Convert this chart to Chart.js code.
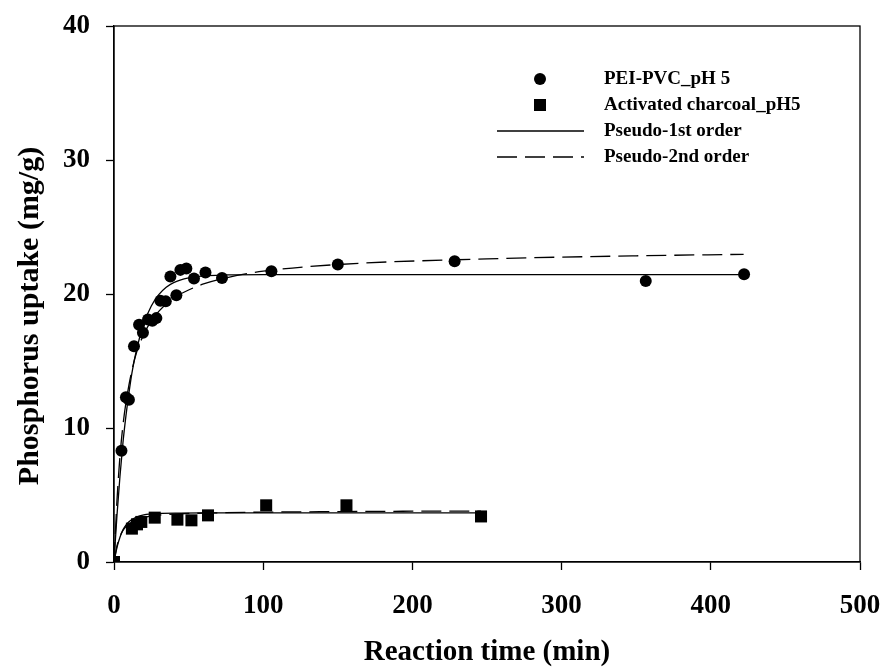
<!DOCTYPE html>
<html>
<head>
<meta charset="utf-8">
<script src="https://cdn.jsdelivr.net/npm/chart.js@4.4.1/dist/chart.umd.min.js"></script>
<style>
  html, body { margin: 0; padding: 0; background: #fff; }
  #wrap { width: 884px; height: 670px; }
</style>
</head>
<body>
<div id="wrap"><canvas id="kinetics" width="884" height="670"></canvas></div>
<script>
// measured points, PEI-PVC at pH 5
const peiTime = [0, 5, 8, 10, 13.4, 16.8, 19.4, 22.8, 25.7, 28.4, 31.1, 34.7, 37.8, 41.8, 44.5, 48.5, 53.6, 61.3, 72.4, 105.5, 150, 228.3, 356.4, 422.3];
const peiUptake = [0, 8.3, 12.3, 12.1, 16.1, 17.7, 17.1, 18.1, 18.0, 18.2, 19.5, 19.45, 21.3, 19.9, 21.8, 21.9, 21.15, 21.6, 21.2, 21.7, 22.2, 22.44, 20.97, 21.47];

// measured points, activated charcoal at pH 5
const acTime = [0, 12, 15.4, 18.3, 27.3, 42.5, 51.9, 63, 102, 155.8, 246];
const acUptake = [0, 2.49, 2.81, 2.99, 3.31, 3.16, 3.11, 3.48, 4.23, 4.23, 3.4];

// fitted curves
const fitTimePei = [0, 2, 4, 6, 8, 10, 12, 15, 20, 25, 30, 35, 40, 50, 60, 75, 100, 150, 250, 350, 422];
const pei1st = [0, 3.5, 6.4, 8.9, 10.9, 12.6, 14.1, 15.8, 17.8, 19.1, 19.95, 20.5, 20.85, 21.2, 21.35, 21.42, 21.45, 21.45, 21.45, 21.45, 21.45];
const pei2nd = [0, 4.6, 7.9, 10.2, 11.9, 13.2, 14.3, 15.6, 17.0, 18.0, 18.7, 19.25, 19.7, 20.3, 20.75, 21.2, 21.7, 22.2, 22.62, 22.85, 22.96];

const fitTimeAc = [0, 2, 4, 6, 8, 10, 15, 20, 30, 45, 60, 100, 150, 200, 246];
const ac1st = [0, 1.1, 1.85, 2.4, 2.75, 3.0, 3.35, 3.52, 3.62, 3.65, 3.66, 3.66, 3.66, 3.66, 3.66];
const ac2nd = [0, 1.2, 1.9, 2.35, 2.65, 2.85, 3.15, 3.33, 3.5, 3.6, 3.65, 3.72, 3.76, 3.79, 3.8];

const xTicks = [0, 100, 200, 300, 400, 500];
const yTicks = [0, 10, 20, 30, 40];

const legendLabels = ['PEI-PVC_pH 5', 'Activated charcoal_pH5', 'Pseudo-1st order', 'Pseudo-2nd order'];
const yTitle = 'Phosphorus uptake (mg/g)';

function pairs(xs, ys) {
  return xs.map(function (x, i) { return { x: x, y: ys[i] }; });
}

const SERIF = "'Liberation Serif', 'Times New Roman', serif";
const DASH = [20, 8];

// plot box on all four sides, plus the y title (sits a bit below centre)
const frameBox = {
  id: 'frameBox',
  afterDatasetsDraw: function (chart) {
    const a = chart.chartArea;
    const ctx = chart.ctx;
    ctx.save();
    ctx.strokeStyle = '#000';
    ctx.lineWidth = 1.3;
    ctx.strokeRect(a.left, a.top, a.right - a.left, a.bottom - a.top);
    ctx.translate(30, 316);
    ctx.rotate(-Math.PI / 2);
    ctx.fillStyle = '#000';
    ctx.font = 'bold 30px ' + SERIF;
    ctx.textAlign = 'center';
    ctx.textBaseline = 'middle';
    ctx.fillText(yTitle, 0, 0);
    ctx.restore();
  }
};

// legend: two markers and two line samples, stacked
const sideLegend = {
  id: 'sideLegend',
  afterDraw: function (chart) {
    const ctx = chart.ctx;
    const textX = 604;
    const rows = [79, 105, 131, 157];
    ctx.save();
    ctx.fillStyle = '#000';
    ctx.strokeStyle = '#000';
    ctx.font = 'bold 19px ' + SERIF;
    ctx.textBaseline = 'middle';
    ctx.textAlign = 'left';
    legendLabels.forEach(function (label, i) {
      ctx.fillText(label, textX, rows[i]);
    });
    ctx.beginPath();
    ctx.arc(540, rows[0], 6, 0, Math.PI * 2);
    ctx.fill();
    ctx.fillRect(534, rows[1] - 6, 12, 12);
    ctx.lineWidth = 1.3;
    ctx.beginPath();
    ctx.moveTo(497, rows[2]);
    ctx.lineTo(584, rows[2]);
    ctx.stroke();
    ctx.setLineDash(DASH);
    ctx.beginPath();
    ctx.moveTo(497, rows[3]);
    ctx.lineTo(584, rows[3]);
    ctx.stroke();
    ctx.restore();
  }
};

function fitLine(data, dashed) {
  return {
    data: data,
    showLine: true,
    pointRadius: 0,
    borderColor: '#000',
    borderWidth: 1.3,
    borderDash: dashed ? DASH : [],
    cubicInterpolationMode: 'monotone',
    fill: false
  };
}

const ctx = document.getElementById('kinetics').getContext('2d');
new Chart(ctx, {
  type: 'scatter',
  data: {
    datasets: [
      fitLine(pairs(fitTimePei, pei1st), false),
      fitLine(pairs(fitTimePei, pei2nd), true),
      fitLine(pairs(fitTimeAc, ac1st), false),
      fitLine(pairs(fitTimeAc, ac2nd), true),
      {
        data: pairs(peiTime, peiUptake),
        pointStyle: 'circle',
        pointRadius: 6,
        backgroundColor: '#000',
        borderColor: '#000',
        borderWidth: 0
      },
      {
        data: pairs(acTime, acUptake),
        pointStyle: 'rect',
        pointRadius: 8.5,
        backgroundColor: '#000',
        borderColor: '#000',
        borderWidth: 0
      }
    ]
  },
  options: {
    responsive: false,
    animation: false,
    layout: { padding: { top: 26, right: 24, left: 0, bottom: 0 } },
    plugins: {
      legend: { display: false },
      tooltip: { enabled: false }
    },
    scales: {
      x: {
        type: 'linear',
        min: 0,
        max: 500,
        afterFit: function (s) {
          s.height = 108;
          s.paddingLeft = 0;
          s.paddingRight = 0;
        },
        afterBuildTicks: function (s) { s.ticks = xTicks.map(function (v) { return { value: v }; }); },
        grid: { drawOnChartArea: false, tickLength: 8, tickColor: '#000', tickWidth: 1.3 },
        border: { display: true, color: '#000', width: 1.3 },
        ticks: {
          color: '#000',
          padding: 20,
          maxRotation: 0,
          font: { family: SERIF, size: 27, weight: 'bold' }
        },
        title: {
          display: true,
          text: 'Reaction time (min)',
          color: '#000',
          padding: { top: 0, bottom: 0 },
          font: { family: SERIF, size: 29, weight: 'bold' }
        }
      },
      y: {
        type: 'linear',
        min: 0,
        max: 40,
        afterFit: function (s) {
          s.width = 114;
          s.paddingTop = 0;
          s.paddingBottom = 0;
        },
        afterBuildTicks: function (s) { s.ticks = yTicks.map(function (v) { return { value: v }; }); },
        grid: { drawOnChartArea: false, tickLength: 8, tickColor: '#000', tickWidth: 1.3 },
        border: { display: true, color: '#000', width: 1.3 },
        ticks: {
          color: '#000',
          padding: 16,
          font: { family: SERIF, size: 27, weight: 'bold' }
        }
      }
    }
  },
  plugins: [frameBox, sideLegend]
});
</script>
</body>
</html>
